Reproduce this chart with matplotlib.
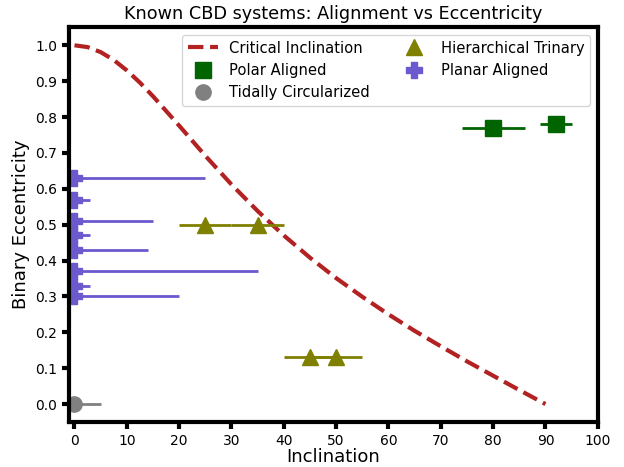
import numpy as np
import matplotlib.pyplot as plt

# critical inclination curve
crit_inc = [0, 2.5, 5, 7.5, 10, 12.5, 15, 20, 25, 30, 35, 40, 45, 50, 55, 60, 65, 70, 75, 80, 85, 90]
crit_ecc = [1.0, 0.995, 0.981, 0.959, 0.930, 0.896, 0.858, 0.776, 0.692, 0.612, 0.538, 0.470,
            0.408, 0.351, 0.299, 0.250, 0.204, 0.161, 0.119, 0.079, 0.039, 0.0]

polar_inc = [80, 92]
polar_ecc = [0.77, 0.78]
polar_err = [6, 3]

tidal_inc = [0]
tidal_ecc = [0.0]
tidal_err = [5]

trinary_inc = [25, 35, 45, 50]
trinary_ecc = [0.5, 0.5, 0.13, 0.13]
trinary_err = [5, 5, 5, 5]

planar_inc = [0, 0, 0, 0, 0, 0, 0, 0]
planar_ecc = [0.63, 0.57, 0.51, 0.47, 0.43, 0.37, 0.33, 0.30]
planar_err = [25, 3, 15, 3, 14, 35, 3, 20]

fig = plt.figure(figsize=(6.24, 4.67), dpi=100)
ax = fig.add_axes([0.111, 0.0964, 0.847, 0.845])

ax.plot(crit_inc, crit_ecc, color="firebrick", linestyle="--", lw=3, label="Critical Inclination")

ax.errorbar(polar_inc, polar_ecc, xerr=polar_err, fmt="none", ecolor="darkgreen", elinewidth=2)
ax.plot(polar_inc, polar_ecc, "s", color="darkgreen", ms=11, label="Polar Aligned")

ax.errorbar(tidal_inc, tidal_ecc, xerr=[[0], tidal_err], fmt="none", ecolor="grey", elinewidth=2)
ax.plot(tidal_inc, tidal_ecc, "o", color="grey", ms=11, label="Tidally Circularized")

ax.errorbar(trinary_inc, trinary_ecc, xerr=trinary_err, fmt="none", ecolor="olive", elinewidth=2)
ax.plot(trinary_inc, trinary_ecc, "^", color="olive", ms=11, label="Hierarchical Trinary")

ax.errorbar(planar_inc, planar_ecc, xerr=[[0] * len(planar_err), planar_err], fmt="none",
            ecolor="slateblue", elinewidth=2)
ax.plot(planar_inc, planar_ecc, "P", color="slateblue", ms=12, label="Planar Aligned")

ax.set_xlim(-1, 100)
ax.set_ylim(-0.05, 1.05)
ax.set_xticks(np.arange(0, 101, 10))
ax.set_yticks(np.arange(0, 1.01, 0.1))
for s in ax.spines.values():
    s.set_linewidth(3)
ax.tick_params(width=3, length=5, labelsize=10)

ax.set_xlabel("Inclination", fontsize=13, labelpad=0.5)
ax.set_ylabel("Binary Eccentricity", fontsize=13)
ax.set_title("Known CBD systems: Alignment vs Eccentricity", fontsize=12.7)
ax.legend(loc="upper right", ncol=2, fontsize=10.6)

fig.savefig("out.png", dpi=100)
